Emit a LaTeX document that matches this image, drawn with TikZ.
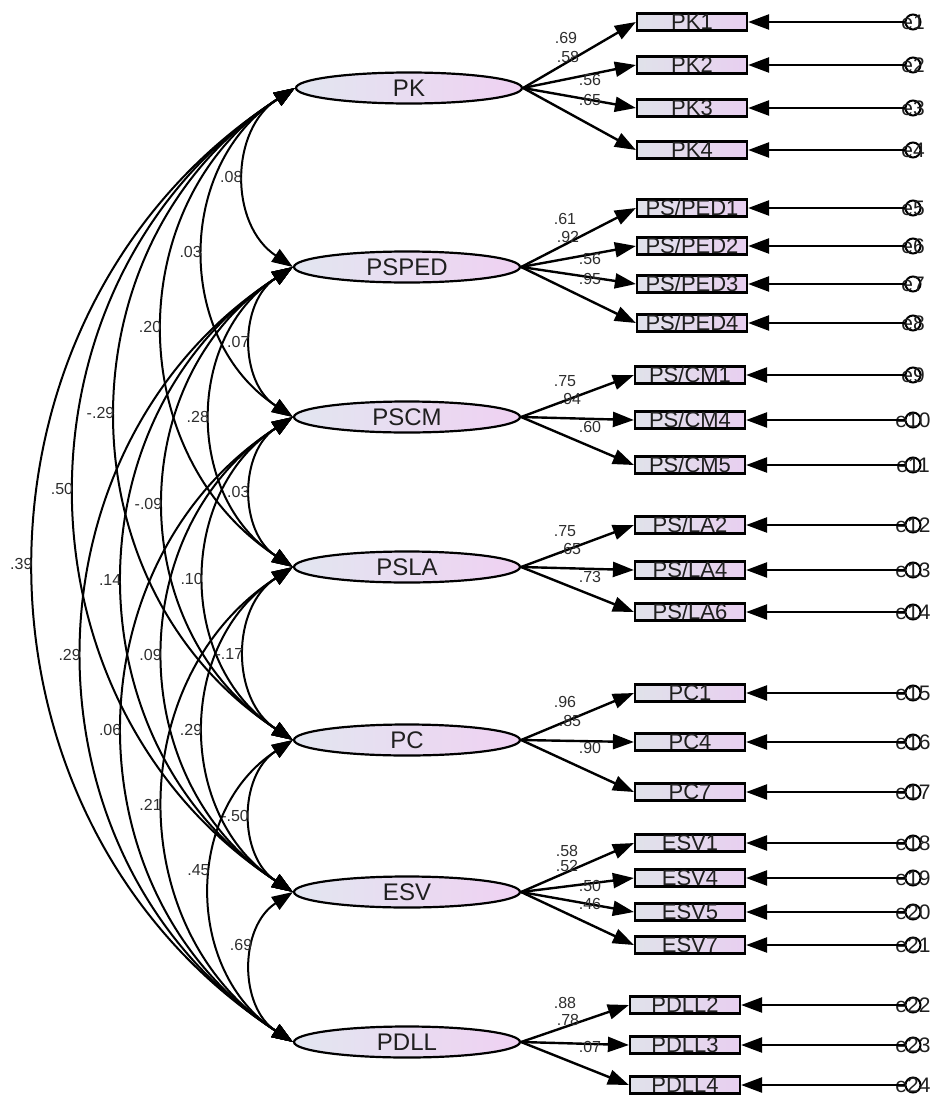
\documentclass[tikz,border=0pt]{standalone}
\usepackage{fontspec}
\setmainfont{Liberation Sans}
\usetikzlibrary{arrows.meta, shapes.geometric}

\definecolor{latL}{HTML}{E2E6F0}
\definecolor{latR}{HTML}{EFD1F2}
\definecolor{obsL}{HTML}{E0E2EA}
\definecolor{obsR}{HTML}{E8CFF0}
\definecolor{coefc}{HTML}{2E2E2E}

\begin{document}
\begin{tikzpicture}[x=1pt, y=-1pt,
  latent/.style={draw, ellipse, line width=2.2pt, minimum width=226pt, minimum height=31pt, inner sep=0pt, left color=latL, right color=latR, font=\fontsize{24}{24}\selectfont, text=black!88},
  item/.style={draw, rectangle, line width=2.2pt, minimum width=110pt, minimum height=16pt, inner xsep=0pt, inner ysep=1pt, text height=15pt, text depth=0pt, left color=obsL, right color=obsR, font=\fontsize{22}{22}\selectfont, text=black!88},
  err/.style={draw, circle, line width=2pt, minimum size=15pt, inner sep=0pt},
  errlab/.style={font=\fontsize{21}{21}\selectfont, inner sep=0pt, text=black!88},
  coef/.style={font=\fontsize{16}{16}\selectfont, text=coefc, inner sep=1pt},
  covlab/.style={coef, midway, left=1pt},
  load/.style={-{Triangle[length=21pt, width=15pt]}, line width=2.4pt},
  cov/.style={{Triangle[length=21pt, width=15pt]}-{Triangle[length=21pt, width=15pt]}, line width=2pt, bend right=57, looseness=1.1}
]
\useasboundingbox (0,0) rectangle (938,1100);

% factors
\node[latent] (PK)    at (409,88)   {PK};
\node[latent] (PSPED) at (407,267)  {PSPED};
\node[latent] (PSCM)  at (407,417)  {PSCM};
\node[latent] (PSLA)  at (407,567)  {PSLA};
\node[latent] (PC)    at (407,740)  {PC};
\node[latent] (ESV)   at (407,892)  {ESV};
\node[latent] (PDLL)  at (407,1042) {PDLL};

% indicators
\node[item] (PK1) at (692,22)  {PK1};
\node[item] (PK2) at (692,65)  {PK2};
\node[item] (PK3) at (692,108) {PK3};
\node[item] (PK4) at (692,150) {PK4};
\node[item] (PSPED1) at (692,208) {PS/PED1};
\node[item] (PSPED2) at (692,246) {PS/PED2};
\node[item] (PSPED3) at (692,284) {PS/PED3};
\node[item] (PSPED4) at (692,323) {PS/PED4};
\node[item] (PSCM1) at (690,375) {PS/CM1};
\node[item] (PSCM4) at (690,420) {PS/CM4};
\node[item] (PSCM5) at (690,465) {PS/CM5};
\node[item] (PSLA2) at (690,525) {PS/LA2};
\node[item] (PSLA4) at (690,570) {PS/LA4};
\node[item] (PSLA6) at (690,612) {PS/LA6};
\node[item] (PC1) at (690,693) {PC1};
\node[item] (PC4) at (690,742) {PC4};
\node[item] (PC7) at (690,792) {PC7};
\node[item] (ESV1) at (690,843) {ESV1};
\node[item] (ESV4) at (690,878) {ESV4};
\node[item] (ESV5) at (690,912) {ESV5};
\node[item] (ESV7) at (690,945) {ESV7};
\node[item] (PDLL2) at (685,1005) {PDLL2};
\node[item] (PDLL3) at (685,1045) {PDLL3};
\node[item] (PDLL4) at (685,1085) {PDLL4};

% error terms
\coordinate (ecol) at (913,0);
\foreach \it [count=\i] in {PK1,PK2,PK3,PK4,PSPED1,PSPED2,PSPED3,PSPED4,PSCM1,PSCM4,PSCM5,PSLA2,PSLA4,PSLA6,PC1,PC4,PC7,ESV1,ESV4,ESV5,ESV7,PDLL2,PDLL3,PDLL4} {
  \node[err] (e\i) at (\it -| ecol) {};
  \node[errlab] (t\i) at (e\i) {e\i};
  \draw[load] (e\i) -- (\it);
}

% loadings
\foreach \f/\it in {PK/PK1,PK/PK2,PK/PK3,PK/PK4,PSPED/PSPED1,PSPED/PSPED2,PSPED/PSPED3,PSPED/PSPED4,PSCM/PSCM1,PSCM/PSCM4,PSCM/PSCM5,PSLA/PSLA2,PSLA/PSLA4,PSLA/PSLA6,PC/PC1,PC/PC4,PC/PC7,ESV/ESV1,ESV/ESV4,ESV/ESV5,ESV/ESV7,PDLL/PDLL2,PDLL/PDLL3,PDLL/PDLL4}
  \draw[load] (\f.east) -- (\it.west);

\foreach \v/\x/\y [count=\i] in {.69/566/38,.58/568/57,.56/590/80,.65/590/100,
  .61/565/219,.92/568/237,.56/590/259,.95/590/279,
  .75/565/381,.94/570/399,.60/590/427,
  .75/565/531,.65/570/549,.73/590/577,
  .96/565/702,.85/570/721,.90/590/748,
  .58/567/851,.52/567/866,.50/590/886,.46/590/904,
  .88/565/1003,.78/568/1020,.07/590/1047}
  \node[coef] (w\i) at (\x,\y) {\v};

% covariances
\draw[cov] (PK.west) to node[covlab] (c1) {.08} (PSPED.west);
\draw[cov] (PK.west) to node[covlab] (c2) {.03} (PSCM.west);
\draw[cov] (PK.west) to node[covlab] (c3) {.20} (PSLA.west);
\draw[cov] (PK.west) to node[covlab] (c4) {-.29} (PC.west);
\draw[cov] (PK.west) to node[covlab] (c5) {.50} (ESV.west);
\draw[cov] (PK.west) to node[covlab] (c6) {.39} (PDLL.west);
\draw[cov] (PSPED.west) to node[covlab] (c7) {.07} (PSCM.west);
\draw[cov] (PSPED.west) to node[covlab] (c8) {.28} (PSLA.west);
\draw[cov] (PSPED.west) to node[covlab] (c9) {-.09} (PC.west);
\draw[cov] (PSPED.west) to node[covlab] (c10) {.14} (ESV.west);
\draw[cov] (PSPED.west) to node[covlab] (c11) {.29} (PDLL.west);
\draw[cov] (PSCM.west) to node[covlab] (c12) {.03} (PSLA.west);
\draw[cov] (PSCM.west) to node[covlab] (c13) {.10} (PC.west);
\draw[cov] (PSCM.west) to node[covlab] (c14) {.09} (ESV.west);
\draw[cov] (PSCM.west) to node[covlab] (c15) {.06} (PDLL.west);
\draw[cov] (PSLA.west) to node[covlab] (c16) {-.17} (PC.west);
\draw[cov] (PSLA.west) to node[covlab] (c17) {.29} (ESV.west);
\draw[cov] (PSLA.west) to node[covlab] (c18) {.21} (PDLL.west);
\draw[cov] (PC.west) to node[covlab] (c19) {-.50} (ESV.west);
\draw[cov] (PC.west) to node[covlab, pos=0.44] (c20) {.45} (PDLL.west);
\draw[cov] (ESV.west) to node[covlab, pos=0.37] (c21) {.69} (PDLL.west);
\end{tikzpicture}
\end{document}
